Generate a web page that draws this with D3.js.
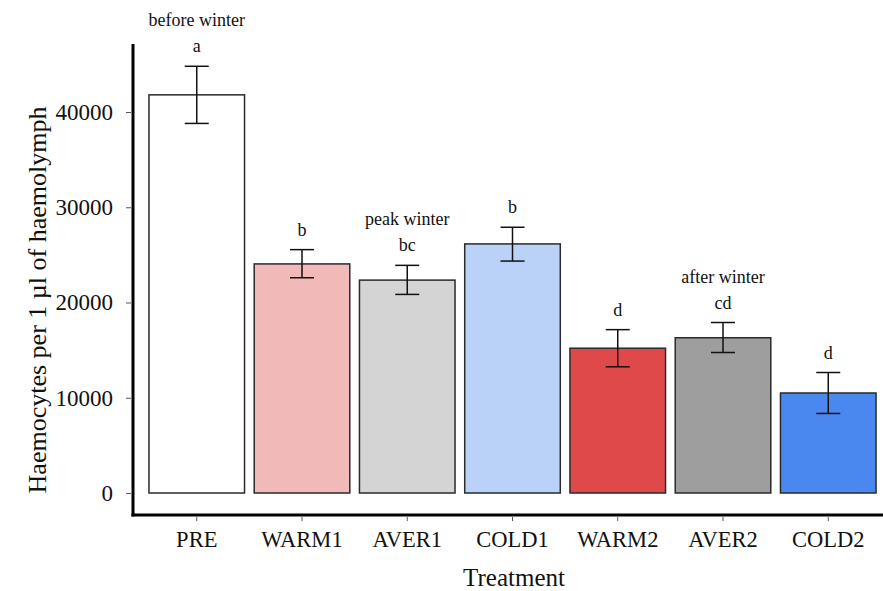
<!DOCTYPE html>
<html>
<head>
<meta charset="utf-8">
<script src="https://cdn.jsdelivr.net/npm/d3@7"></script>
<style>
  body { margin: 0; background: #fff; }
  text { font-family: "Liberation Serif", "Times New Roman", serif; fill: #111; }
</style>
</head>
<body>
<div id="chart"></div>
<script>
// Data
const treatments = ["PRE", "WARM1", "AVER1", "COLD1", "WARM2", "AVER2", "COLD2"];
const means = [41800, 24050, 22350, 26150, 15200, 16300, 10500];
const errUpper = [44800, 25550, 23900, 27900, 17150, 17900, 12650];
const errLower = [38800, 22600, 20850, 24350, 13250, 14750, 8350];
const letters = ["a", "b", "bc", "b", "d", "cd", "d"];
const periods = ["before winter", "", "peak winter", "", "", "after winter", ""];
const fills = ["#ffffff", "#f2b9b9", "#d4d4d4", "#bbd2f8", "#e04949", "#9e9e9e", "#4a87ee"];
const yTicks = [0, 10000, 20000, 30000, 40000];

const W = 883, H = 591;
const axisX = 133, axisY = 515;

const svg = d3.select("#chart")
  .append("svg")
  .attr("width", W)
  .attr("height", H);

// Scales
const xScale = d3.scaleBand()
  .domain(treatments)
  .range([143.7, 881.3])
  .paddingInner(0.092)
  .paddingOuter(0.05);

const yScale = d3.scaleLinear()
  .domain([0, 40000])
  .range([493, 112]);

// Y axis ticks and labels
const yAxis = d3.axisLeft(yScale)
  .tickValues(yTicks)
  .tickSize(5)
  .tickSizeOuter(0)
  .tickPadding(13)
  .tickFormat(d3.format("d"));

const gy = svg.append("g")
  .attr("transform", `translate(${axisX - 2}, 0)`)
  .call(yAxis);
gy.select(".domain").remove();
gy.selectAll(".tick line").attr("stroke", "#555");
gy.selectAll(".tick text")
  .style("font-family", "Liberation Serif")
  .style("font-size", "23px")
  .attr("fill", "#111");

// X axis ticks and labels
const xAxis = d3.axisBottom(xScale)
  .tickSize(4)
  .tickSizeOuter(0)
  .tickPadding(10);

const gx = svg.append("g")
  .attr("transform", `translate(0, ${axisY + 2})`)
  .call(xAxis);
gx.select(".domain").remove();
gx.selectAll(".tick line").attr("stroke", "#555");
gx.selectAll(".tick text")
  .style("font-family", "Liberation Serif")
  .style("font-size", "22.5px")
  .attr("fill", "#111");

// Axis lines (thick L)
svg.append("line")
  .attr("x1", axisX).attr("x2", axisX)
  .attr("y1", 44).attr("y2", axisY + 1.5)
  .attr("stroke", "#000").attr("stroke-width", 3);
svg.append("line")
  .attr("x1", axisX - 1.5).attr("x2", W)
  .attr("y1", axisY).attr("y2", axisY)
  .attr("stroke", "#000").attr("stroke-width", 3);

// Bars
svg.selectAll(".bar")
  .data(treatments)
  .enter()
  .append("rect")
  .attr("class", "bar")
  .attr("x", d => xScale(d))
  .attr("y", (d, i) => yScale(means[i]))
  .attr("width", xScale.bandwidth())
  .attr("height", (d, i) => yScale(0) - yScale(means[i]))
  .attr("fill", (d, i) => fills[i])
  .attr("stroke", "#2a2a2a")
  .attr("stroke-width", 1.5);

// Error bars
const cap = 12;
const eb = svg.selectAll(".err")
  .data(treatments)
  .enter()
  .append("g")
  .attr("class", "err")
  .attr("stroke", "#111")
  .attr("stroke-width", 1.5);

eb.append("line")
  .attr("x1", d => xScale(d) + xScale.bandwidth() / 2)
  .attr("x2", d => xScale(d) + xScale.bandwidth() / 2)
  .attr("y1", (d, i) => yScale(errUpper[i]))
  .attr("y2", (d, i) => yScale(errLower[i]));
eb.append("line")
  .attr("x1", d => xScale(d) + xScale.bandwidth() / 2 - cap)
  .attr("x2", d => xScale(d) + xScale.bandwidth() / 2 + cap)
  .attr("y1", (d, i) => yScale(errUpper[i]))
  .attr("y2", (d, i) => yScale(errUpper[i]));
eb.append("line")
  .attr("x1", d => xScale(d) + xScale.bandwidth() / 2 - cap)
  .attr("x2", d => xScale(d) + xScale.bandwidth() / 2 + cap)
  .attr("y1", (d, i) => yScale(errLower[i]))
  .attr("y2", (d, i) => yScale(errLower[i]));

// Significance letters
svg.selectAll(".letter")
  .data(treatments)
  .enter()
  .append("text")
  .attr("class", "letter")
  .attr("x", d => xScale(d) + xScale.bandwidth() / 2)
  .attr("y", (d, i) => yScale(errUpper[i]) - 14)
  .attr("text-anchor", "middle")
  .style("font-size", "18px")
  .text((d, i) => letters[i]);

// Period labels
svg.selectAll(".period")
  .data(treatments.filter((d, i) => periods[i]))
  .enter()
  .append("text")
  .attr("class", "period")
  .attr("x", d => xScale(d) + xScale.bandwidth() / 2)
  .attr("y", d => yScale(errUpper[treatments.indexOf(d)]) - 40)
  .attr("text-anchor", "middle")
  .style("font-size", "18px")
  .text(d => periods[treatments.indexOf(d)]);

// Axis titles
svg.append("text")
  .attr("x", 514)
  .attr("y", 586)
  .attr("text-anchor", "middle")
  .style("font-size", "25px")
  .text("Treatment");

svg.append("text")
  .attr("transform", "translate(46, 300) rotate(-90)")
  .attr("text-anchor", "middle")
  .style("font-size", "26px")
  .text("Haemocytes per 1 µl of haemolymph");
</script>
</body>
</html>
